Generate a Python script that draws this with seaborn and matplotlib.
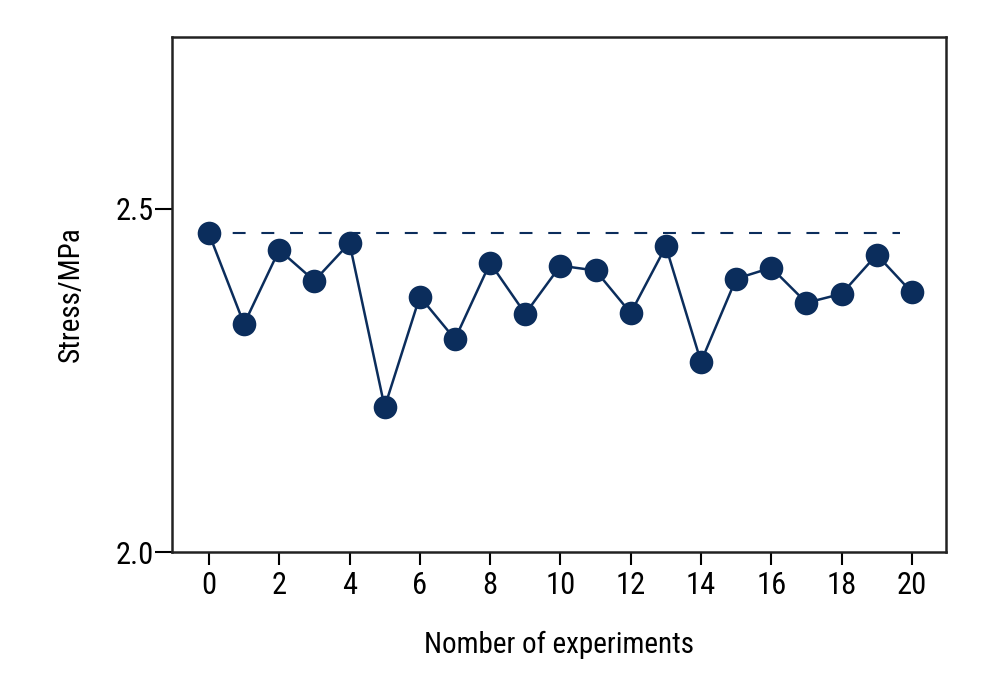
import matplotlib
matplotlib.use("Agg")
import matplotlib.pyplot as plt
import seaborn as sns
import pandas as pd

experiments = list(range(21))
stress = [2.464, 2.332, 2.440, 2.395, 2.450, 2.211, 2.372, 2.310, 2.421, 2.347,
          2.417, 2.410, 2.348, 2.445, 2.277, 2.398, 2.414, 2.363, 2.376, 2.433, 2.378]
ref_x = [0, 19.66]
ref_y = [2.465, 2.465]
x_ticks = list(range(0, 21, 2))
y_ticks = [2.0, 2.5]

sns.set_theme(style="white")
plt.rcParams['font.family'] = ['Liberation Sans Narrow', 'Roboto Condensed', 'DejaVu Sans']
plt.rcParams['font.stretch'] = 'condensed'

color = "#0b2d5c"
df = pd.DataFrame({"x": experiments, "y": stress})

fig = plt.figure(figsize=(10, 7), dpi=100)
ax = fig.add_axes([0.172, 0.2114, 0.774, 0.7357])

ax.plot(ref_x, ref_y, color=color, lw=1.5, linestyle=(2.4, (6.2, 7.57)), zorder=1)
sns.lineplot(data=df, x="x", y="y", ax=ax, color=color, lw=1.8,
             marker="o", markersize=17, markeredgewidth=0, zorder=3)

ax.set_xlim(-1.05, 20.97)
ax.set_ylim(2.0, 2.75)
ax.set_xticks(x_ticks)
ax.set_yticks(y_ticks)
ax.set_yticklabels(["2.0", "2.5"])
ax.tick_params(axis="both", direction="out", width=1.5, color="black",
               labelsize=22, labelcolor="black", bottom=True, left=True)
ax.tick_params(axis="x", length=9.5, pad=4)
ax.tick_params(axis="y", length=12, pad=1)
for s in ax.spines.values():
    s.set_color("#222222")
    s.set_linewidth(1.8)
ax.set_xlabel("Nomber of experiments", fontsize=21, color="black", labelpad=22)
ax.set_ylabel("Stress/MPa", fontsize=21, color="black", labelpad=22)
ax.grid(False)

fig.savefig("out.png", dpi=100)
